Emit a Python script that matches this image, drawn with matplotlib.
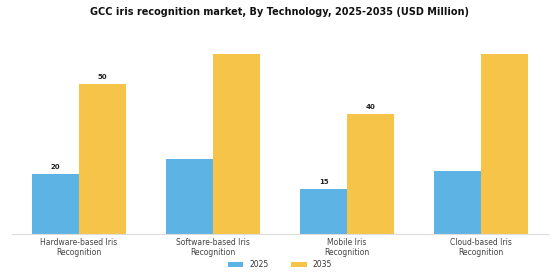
import matplotlib
matplotlib.use("Agg")
import matplotlib.pyplot as plt
import numpy as np

categories = ["Hardware-based Iris\nRecognition", "Software-based Iris\nRecognition",
              "Mobile Iris\nRecognition", "Cloud-based Iris\nRecognition"]
values_2025 = [20, 25, 15, 21]
values_2035 = [50, 60, 40, 60]
labels_2025 = ["20", "", "15", ""]
labels_2035 = ["50", "", "40", ""]
series_names = ["2025", "2035"]

c2025 = "#5DB3E4"
c2035 = "#F7C44A"

fig = plt.figure(figsize=(5.6, 2.8), dpi=100)
ax = fig.add_axes([12/560, 46/280, 536/560, 198/280])
x = np.arange(len(categories))
w = 0.35
b1 = ax.bar(x - w/2, values_2025, w, color=c2025, label=series_names[0])
b2 = ax.bar(x + w/2, values_2035, w, color=c2035, label=series_names[1])
for rect, lab in zip(b1, labels_2025):
    if lab:
        ax.text(rect.get_x() + rect.get_width()/2, rect.get_height() + 1.2, lab,
                ha="center", va="bottom", fontsize=5, fontweight="bold", color="#222222")
for rect, lab in zip(b2, labels_2035):
    if lab:
        ax.text(rect.get_x() + rect.get_width()/2, rect.get_height() + 1.2, lab,
                ha="center", va="bottom", fontsize=5, fontweight="bold", color="#222222")

ax.set_xlim(-0.5, 3.5)
ax.set_ylim(0, 66)
ax.set_xticks(x)
ax.set_xticklabels(categories, fontsize=5.5, color="#444444", linespacing=1.1)
ax.tick_params(axis="x", length=0, pad=3)
ax.set_yticks([])
for s in ["top", "right", "left"]:
    ax.spines[s].set_visible(False)
ax.spines["bottom"].set_color("#dddddd")
ax.spines["bottom"].set_linewidth(0.8)

fig.suptitle("GCC iris recognition market, By Technology, 2025-2035 (USD Million)",
             fontsize=7.0, fontweight="bold", y=0.975, x=0.5, color="#111111")
fig.legend(loc="lower center", bbox_to_anchor=(0.5, 0.015), ncol=2, frameon=False,
           fontsize=5.5, handlelength=2.0, handleheight=0.6, columnspacing=3.0,
           labelcolor="#333333")
fig.savefig("out.png", dpi=100, facecolor="white")
